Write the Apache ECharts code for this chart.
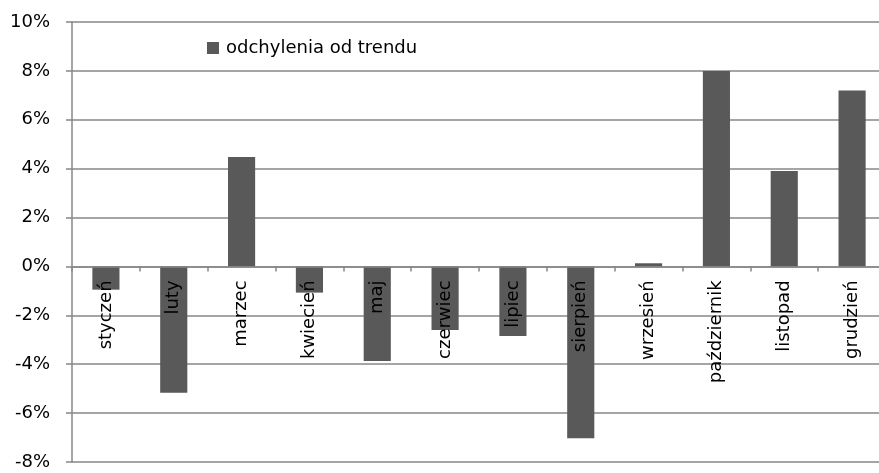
<!DOCTYPE html>
<html>
<head>
<meta charset="utf-8">
<script src="https://cdn.jsdelivr.net/npm/echarts@6/dist/echarts.min.js"></script>
<style>
  html, body { margin: 0; padding: 0; background: #fff; }
  #main { width: 879px; height: 473px; }
</style>
</head>
<body>
<div id="main"></div>
<script>
// miesiące i odchylenia (w %)
var months = ['styczeń', 'luty', 'marzec', 'kwiecień', 'maj', 'czerwiec', 'lipiec',
  'sierpień', 'wrzesień', 'październik', 'listopad', 'grudzień'];
var deviation = [-0.95, -5.17, 4.48, -1.07, -3.87, -2.6, -2.85, -7.03, 0.13, 8.0, 3.9, 7.2];
var seriesName = 'odchylenia od trendu';

var chart = echarts.init(document.getElementById('main'), null, { renderer: 'canvas' });
var font = 'DejaVu Sans';
var lineColor = '#878787';

var gridTop = 22, gridBottom = 11, yMin = -8, yMax = 10;
var plotH = 473 - gridTop - gridBottom;
// przesunięcie osi X do linii zera
var zeroOffset = -(plotH * (0 - yMin) / (yMax - yMin));

var option = {
  animation: false,
  textStyle: { fontFamily: font },
  grid: { left: 72, right: -7, top: gridTop, bottom: gridBottom, containLabel: false, outerBoundsMode: 'none' },
  legend: {
    data: [seriesName],
    left: 207,
    top: 39,
    icon: 'rect',
    itemWidth: 12,
    itemHeight: 12,
    padding: 0,
    textStyle: { fontFamily: font, fontSize: 18, color: '#000', padding: [0, 0, 0, 2] }
  },
  xAxis: {
    type: 'category',
    data: months,
    position: 'bottom',
    offset: zeroOffset,
    z: 5,
    axisLine: { onZero: false, lineStyle: { color: lineColor, width: 1.5 } },
    axisTick: { show: true, length: 5, lineStyle: { color: lineColor, width: 1.5 } },
    axisLabel: {
      show: true, interval: 0, rotate: 90, margin: 14, fontSize: 18,
      color: '#000', fontFamily: font, hideOverlap: false
    },
    splitLine: { show: false }
  },
  yAxis: {
    type: 'value',
    min: yMin,
    max: yMax,
    interval: 2,
    axisLine: { show: true, lineStyle: { color: lineColor, width: 1.5 } },
    axisTick: { show: true, length: 6, lineStyle: { color: lineColor, width: 1.5 } },
    axisLabel: {
      margin: 22, fontSize: 18, color: '#000', fontFamily: font,
      formatter: function (v) { return v + '%'; }
    },
    splitLine: { show: true, lineStyle: { color: lineColor, width: 1.5 } }
  },
  series: [{
    name: seriesName,
    type: 'bar',
    data: deviation,
    barWidth: '40%',
    itemStyle: { color: '#595959' }
  }]
};

chart.setOption(option);
</script>
</body>
</html>
